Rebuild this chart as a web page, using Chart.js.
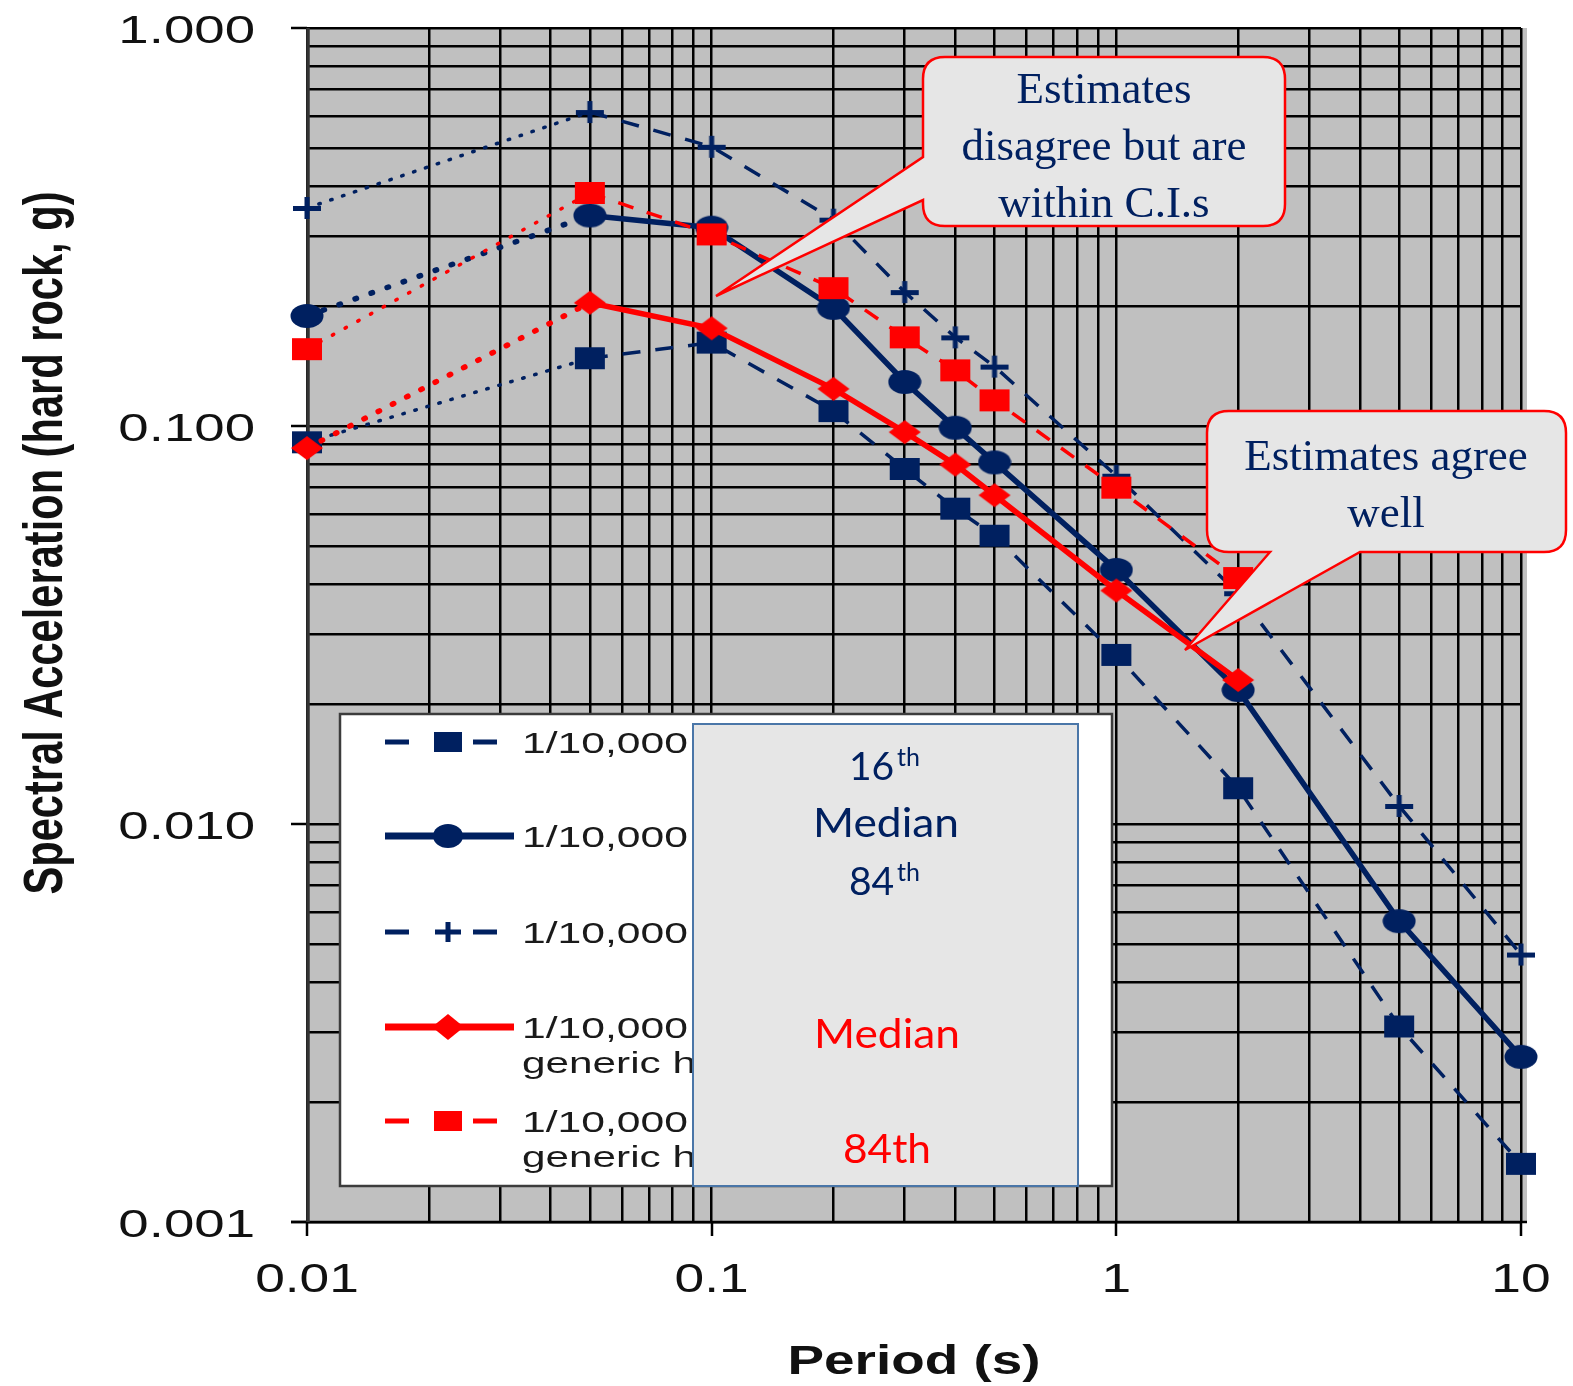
<!DOCTYPE html>
<html>
<head>
<meta charset="utf-8">
<script src="https://cdn.jsdelivr.net/npm/chart.js@4.4.1/dist/chart.umd.min.js"></script>
<style>
html,body{margin:0;padding:0;background:#fff;}
#wrap{position:relative;width:1573px;height:1386px;overflow:hidden;}
#c{position:absolute;left:0;top:0;}
#ov{position:absolute;left:0;top:0;}
</style>
</head>
<body>
<div id="wrap">
<canvas id="c" width="1573" height="1386"></canvas>
<svg id="ov" width="1573" height="1386" viewBox="0 0 1573 1386" xmlns="http://www.w3.org/2000/svg"></svg>
</div>
<script>
// ---------------- DATA ----------------
const periods        = [0.01, 0.05, 0.1, 0.2, 0.3, 0.4, 0.5, 1, 2, 5, 10];
const periodsGeneric = [0.01, 0.05, 0.1, 0.2, 0.3, 0.4, 0.5, 1, 2];

const sa16th   = [0.091, 0.148, 0.162, 0.109, 0.078, 0.062, 0.053, 0.0266, 0.0123, 0.0031, 0.0014];
const saMedian = [0.189, 0.338, 0.315, 0.198, 0.129, 0.099, 0.081, 0.0435, 0.0217, 0.0057, 0.0026];
const sa84th   = [0.353, 0.615, 0.503, 0.33, 0.217, 0.167, 0.141, 0.075, 0.038, 0.0111, 0.0047];
const saGenericMedian = [0.088, 0.204, 0.176, 0.124, 0.0965, 0.080, 0.067, 0.0386, 0.0230];
const saGeneric84th   = [0.156, 0.385, 0.303, 0.222, 0.167, 0.138, 0.116, 0.070, 0.0415];

const xTickValues = [0.01, 0.1, 1, 10];
const xTickLabels = ['0.01', '0.1', '1', '10'];
const yTickValues = [1, 0.1, 0.01, 0.001];
const yTickLabels = ['1.000', '0.100', '0.010', '0.001'];
const xTitle = 'Period (s)';
const yTitle = 'Spectral Acceleration (hard rock, g)';

const legendLine1 = ['1/10,000', '1/10,000', '1/10,000', '1/10,000', '1/10,000'];
const legendLine2 = ['', '', '', 'generic h', 'generic h'];
const callout1Lines = ['Estimates', 'disagree but are', 'within C.I.s'];
const callout2Lines = ['Estimates agree', 'well'];

// ---------------- STYLE ----------------
const NAVY = '#002060';
const RED = '#ff0000';

function gridValues(lo, hi) {
  const out = [];
  for (let e = lo; e < hi; e++) {
    for (let k = 1; k <= 9; k++) out.push(parseFloat((k * Math.pow(10, e)).toPrecision(6)));
  }
  out.push(Math.pow(10, hi));
  return out;
}
const xGrid = gridValues(-2, 1);
const yGrid = gridValues(-3, 0);

function makeMarker(kind, color) {
  const c = document.createElement('canvas');
  const w = 34, h = 26;
  c.width = w; c.height = h;
  const g = c.getContext('2d');
  g.fillStyle = color; g.strokeStyle = color;
  if (kind === 'square') {
    g.fillRect(2, 2, 30, 22);
  } else if (kind === 'ellipse') {
    g.beginPath(); g.ellipse(17, 13, 16.5, 12, 0, 0, Math.PI * 2); g.fill();
  } else if (kind === 'diamond') {
    g.beginPath(); g.moveTo(1, 13); g.lineTo(17, 1); g.lineTo(33, 13); g.lineTo(17, 25); g.closePath(); g.fill();
  } else if (kind === 'plus') {
    g.fillRect(3, 11, 28, 5);
    g.fillRect(14.5, 2, 5, 22);
  }
  return c;
}

function series(label, xs, ys, color, width, mainDash, dotDash, marker, order) {
  return {
    label: label,
    data: xs.map((x, i) => ({ x: x, y: ys[i] })),
    borderColor: color,
    backgroundColor: color,
    borderWidth: width,
    borderDash: mainDash,
    pointStyle: marker,
    pointRadius: 12,
    pointHoverRadius: 12,
    tension: 0,
    fill: false,
    clip: false,
    order: order,
    segment: {
      borderDash: ctx => ctx.p0DataIndex === 0 ? dotDash : mainDash,
      borderCapStyle: ctx => ctx.p0DataIndex === 0 ? 'round' : 'butt'
    }
  };
}

const datasets = [
  series('1/10,000 16th', periods, sa16th, NAVY, 3.5, [18, 15], [1.5, 11], makeMarker('square', NAVY), 1),
  series('1/10,000 Median', periods, saMedian, NAVY, 5.5, [], [1.5, 15.5], makeMarker('ellipse', NAVY), 1),
  series('1/10,000 84th', periods, sa84th, NAVY, 3.5, [18, 15], [1.5, 11], makeMarker('plus', NAVY), 1),
  series('1/10,000 generic hard rock Median', periodsGeneric, saGenericMedian, RED, 5.5, [], [1.5, 14.5], makeMarker('diamond', RED), 0),
  series('1/10,000 generic hard rock 84th', periodsGeneric, saGeneric84th, RED, 3.5, [16, 14], [1.5, 13], makeMarker('square', RED), 0)
];

function drawStretched(ctx, text, x, y, sx, align) {
  ctx.save();
  ctx.translate(x, y);
  ctx.scale(sx, 1);
  ctx.textAlign = align;
  ctx.fillText(text, 0, 0);
  ctx.restore();
}

const decor = {
  id: 'decor',
  beforeDraw(chart) {
    const { ctx, chartArea: a } = chart;
    ctx.save();
    ctx.fillStyle = '#ffffff';
    ctx.fillRect(0, 0, chart.width, chart.height);
    ctx.fillStyle = '#c0c0c0';
    ctx.fillRect(a.left, a.top, a.right - a.left + 6, a.bottom - a.top);
    ctx.restore();
  },
  beforeDatasetsDraw(chart) {
    const { ctx, chartArea: a, scales } = chart;
    ctx.save();
    ctx.strokeStyle = '#000';
    ctx.lineWidth = 2.5;
    yTickValues.forEach(v => {
      const py = Math.round(scales.y.getPixelForValue(v));
      ctx.beginPath(); ctx.moveTo(a.left - 16, py); ctx.lineTo(a.left, py); ctx.stroke();
    });
    xTickValues.forEach(v => {
      const px = Math.round(scales.x.getPixelForValue(v));
      ctx.beginPath(); ctx.moveTo(px, a.bottom); ctx.lineTo(px, a.bottom + 14); ctx.stroke();
    });
    ctx.beginPath(); ctx.moveTo(a.left - 16, a.bottom); ctx.lineTo(a.right + 6, a.bottom); ctx.stroke();
    ctx.strokeStyle = '#333';
    ctx.lineWidth = 3.5;
    ctx.beginPath(); ctx.moveTo(a.left + 1, a.top); ctx.lineTo(a.left + 1, a.bottom); ctx.stroke();
    ctx.restore();
  },
  afterDraw(chart) {
    const { ctx, chartArea: a, scales } = chart;
    ctx.save();
    ctx.fillStyle = '#111';
    ctx.textBaseline = 'alphabetic';
    ctx.font = '39px "Liberation Sans", Arial, sans-serif';
    yTickValues.forEach((v, i) => {
      const py = scales.y.getPixelForValue(v);
      drawStretched(ctx, yTickLabels[i], 255, py + 15, 1.4, 'right');
    });
    ctx.font = '41px "Liberation Sans", Arial, sans-serif';
    xTickValues.forEach((v, i) => {
      const px = scales.x.getPixelForValue(v);
      drawStretched(ctx, xTickLabels[i], px, 1292, 1.3, 'center');
    });
    ctx.font = 'bold 40px "Liberation Sans", Arial, sans-serif';
    const wx = ctx.measureText(xTitle).width;
    drawStretched(ctx, xTitle, (a.left + a.right) / 2, 1374, 253 / wx, 'center');
    ctx.font = 'bold 42px "Liberation Sans", Arial, sans-serif';
    const wy = ctx.measureText(yTitle).width;
    ctx.save();
    ctx.translate(62, 543);
    ctx.rotate(-Math.PI / 2);
    ctx.scale(703 / wy, 1.3);
    ctx.textAlign = 'center';
    ctx.fillText(yTitle, 0, 0);
    ctx.restore();
    ctx.restore();
  }
};

new Chart(document.getElementById('c'), {
  type: 'line',
  data: { datasets: datasets },
  options: {
    responsive: false,
    animation: false,
    events: [],
    layout: { padding: { left: 307, right: 52, top: 28, bottom: 164 } },
    plugins: { legend: { display: false }, tooltip: { enabled: false } },
    scales: {
      x: {
        type: 'logarithmic', min: 0.01, max: 10,
        afterBuildTicks: axis => { axis.ticks = xGrid.map(v => ({ value: v })); },
        ticks: { display: false },
        grid: { color: '#000', lineWidth: 2.5, drawTicks: false },
        border: { display: false },
        title: { display: false }
      },
      y: {
        type: 'logarithmic', min: 0.001, max: 1,
        afterBuildTicks: axis => { axis.ticks = yGrid.map(v => ({ value: v })); },
        ticks: { display: false },
        grid: { color: '#000', lineWidth: 2.5, drawTicks: false },
        border: { display: false },
        title: { display: false }
      }
    }
  },
  plugins: [decor]
});

// ---------------- OVERLAY (legend + callouts) ----------------
const svg = document.getElementById('ov');
const rowsY = [742, 836, 932, 1027, 1121];
let s = '';
s += '<rect x="340" y="714" width="772" height="472" fill="#ffffff" stroke="#3c3c3c" stroke-width="2.5"/>';
function dashes(y, color, w) {
  return '<line x1="385" y1="' + y + '" x2="409" y2="' + y + '" stroke="' + color + '" stroke-width="' + w + '"/>' +
         '<line x1="473" y1="' + y + '" x2="497" y2="' + y + '" stroke="' + color + '" stroke-width="' + w + '"/>';
}
function solid(y, color, w) {
  return '<line x1="385" y1="' + y + '" x2="514" y2="' + y + '" stroke="' + color + '" stroke-width="' + w + '"/>';
}
s += dashes(rowsY[0], NAVY, 5) + '<rect x="434" y="' + (rowsY[0] - 10) + '" width="28" height="20" fill="' + NAVY + '"/>';
s += solid(rowsY[1], NAVY, 7) + '<ellipse cx="448" cy="' + rowsY[1] + '" rx="15" ry="12" fill="' + NAVY + '"/>';
s += dashes(rowsY[2], NAVY, 5) + '<rect x="435" y="' + (rowsY[2] - 2.5) + '" width="26" height="5" fill="' + NAVY + '"/>' +
     '<rect x="445.5" y="' + (rowsY[2] - 10) + '" width="5" height="20" fill="' + NAVY + '"/>';
s += solid(rowsY[3], RED, 7) + '<path d="M 432 ' + rowsY[3] + ' L 448 ' + (rowsY[3] - 13) + ' L 464 ' + rowsY[3] + ' L 448 ' + (rowsY[3] + 13) + ' Z" fill="' + RED + '"/>';
s += dashes(rowsY[4], RED, 5) + '<rect x="434" y="' + (rowsY[4] - 10) + '" width="28" height="20" fill="' + RED + '"/>';
rowsY.forEach((y, i) => {
  s += '<text x="522" y="' + (y + 11) + '" font-family="Liberation Sans, Arial, sans-serif" font-size="30" fill="#1a1a1a" textLength="166" lengthAdjust="spacingAndGlyphs">' + legendLine1[i] + '</text>';
  if (legendLine2[i]) {
    s += '<text x="522" y="' + (y + 46) + '" font-family="Liberation Sans, Arial, sans-serif" font-size="30" fill="#1a1a1a" textLength="174" lengthAdjust="spacingAndGlyphs">' + legendLine2[i] + '</text>';
  }
});
s += '<rect x="693" y="724" width="385" height="462" fill="#e6e6e6" stroke="#4a76a8" stroke-width="2"/>';
const lf = 'Lato, Carlito, Calibri, sans-serif';
s += '<text x="849" y="780" font-family="' + lf + '" font-size="39" fill="' + NAVY + '">16</text>';
s += '<text x="897" y="766" font-family="' + lf + '" font-size="25" fill="' + NAVY + '">th</text>';
s += '<text x="886" y="837" text-anchor="middle" font-family="' + lf + '" font-size="40" fill="' + NAVY + '" textLength="146" lengthAdjust="spacingAndGlyphs">Median</text>';
s += '<text x="849" y="895" font-family="' + lf + '" font-size="39" fill="' + NAVY + '">84</text>';
s += '<text x="897" y="881" font-family="' + lf + '" font-size="25" fill="' + NAVY + '">th</text>';
s += '<text x="887" y="1048" text-anchor="middle" font-family="' + lf + '" font-size="40" fill="' + RED + '" textLength="146" lengthAdjust="spacingAndGlyphs">Median</text>';
s += '<text x="887" y="1163" text-anchor="middle" font-family="' + lf + '" font-size="40" fill="' + RED + '" textLength="88" lengthAdjust="spacingAndGlyphs">84th</text>';
s += '<path d="M 945 57 H 1263 Q 1285 57 1285 79 V 204 Q 1285 226 1263 226 H 945 Q 923 226 923 204 V 200 L 716 296 L 923 157 V 79 Q 923 57 945 57 Z" fill="#e6e6e6" stroke="#ff0000" stroke-width="2.5"/>';
const sf = 'Liberation Serif, Times New Roman, serif';
[103, 160, 217].forEach((y, i) => {
  s += '<text x="1104" y="' + y + '" text-anchor="middle" font-family="' + sf + '" font-size="45" fill="' + NAVY + '">' + callout1Lines[i] + '</text>';
});
s += '<path d="M 1229 411 H 1544 Q 1566 411 1566 433 V 530 Q 1566 552 1544 552 H 1360 L 1185 650 L 1270 552 H 1229 Q 1207 552 1207 530 V 433 Q 1207 411 1229 411 Z" fill="#e6e6e6" stroke="#ff0000" stroke-width="2.5"/>';
[470, 527].forEach((y, i) => {
  s += '<text x="1386" y="' + y + '" text-anchor="middle" font-family="' + sf + '" font-size="45" fill="' + NAVY + '">' + callout2Lines[i] + '</text>';
});
svg.innerHTML = s;
</script>
</body>
</html>
